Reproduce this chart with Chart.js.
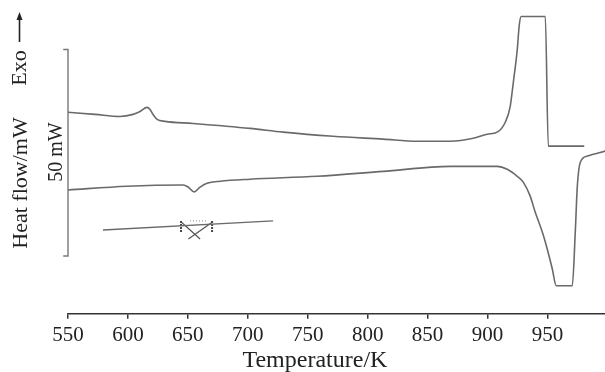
<!DOCTYPE html>
<html>
<head>
<meta charset="utf-8">
<script src="https://cdn.jsdelivr.net/npm/chart.js@4"></script>
<style>
  html, body { margin: 0; padding: 0; background: #fff; }
  #wrap { width: 605px; height: 372px; position: relative; }
</style>
</head>
<body>
<div id="wrap"><canvas id="dsc"></canvas></div>
<script>
// Heating curve (upper, exothermic up)
const heatTemp = [550, 572.5, 593.4, 604.3, 610.1, 615.9, 618.4, 620.9, 624.3, 631, 654.3, 701.9, 729.5, 771.2, 812.9, 841.3, 868.9, 888.1, 899.7, 908.1, 914.8, 918.9, 921.5, 924.8, 926.5, 928.1, 948.2, 950.7, 980.7];
const heatFlow = [48.8, 48.3, 47.8, 48.3, 49.0, 50.0, 49.5, 48.3, 47.1, 46.6, 46.1, 44.9, 44.0, 43.0, 42.3, 41.8, 41.8, 42.5, 43.5, 44.0, 46.4, 50.2, 56.0, 64.0, 70.0, 72.0, 72.0, 40.6, 40.6];

// Cooling curve (lower)
const coolTemp = [550, 599.2, 646, 650.2, 655.2, 660.2, 666, 676.9, 701.9, 757.8, 812.9, 868.9, 896.4, 908.1, 916.4, 924.8, 929.8, 935.6, 939.8, 945.7, 949.8, 954, 957.3, 970.7, 973.2, 974.9, 977.4, 983.2, 998.2];
const coolFlow = [30.0, 30.9, 31.2, 30.7, 29.5, 30.7, 31.6, 32.1, 32.6, 33.3, 34.5, 35.7, 35.7, 35.7, 35.0, 33.3, 31.9, 28.5, 24.6, 19.8, 15.7, 10.9, 6.8, 6.8, 19.8, 30.9, 36.7, 38.2, 39.4];

// Short reference trace with its marker
const refTemp = [579.2, 721.1];
const refFlow = [20.3, 22.5];
const markDiagA = [[644.9, 22.1], [660.2, 18.1]];
const markDiagB = [[670.0, 22.1], [650.4, 18.1]];
const markLeft = [[644.3, 22.5], [644.3, 19.6]];
const markRight = [[670.2, 22.5], [670.2, 19.6]];
const markTop = [[651.8, 22.5], [665.2, 22.5]];

// 50 mW scale bar
const barTemp = [546, 550, 550, 546];
const barFlow = [64, 64, 14, 14];

const tickValues = [550, 600, 650, 700, 750, 800, 850, 900, 950];

const toPts = (xs, ys) => xs.map((x, i) => ({ x, y: ys[i] }));
const pairs = arr => arr.map(([x, y]) => ({ x, y }));

const serif = '"Liberation Serif", "DejaVu Serif", serif';
const curveColor = '#6a6a6a';

function line(data, extra) {
  return Object.assign({
    data,
    borderColor: curveColor,
    borderWidth: 1.6,
    pointRadius: 0,
    tension: 0,
    fill: false
  }, extra || {});
}

// Axis title and side labels
const labelsPlugin = {
  id: 'labels',
  afterDraw(chart) {
    const { ctx, scales } = chart;
    ctx.save();
    ctx.fillStyle = '#222';
    ctx.textBaseline = 'alphabetic';
    ctx.textAlign = 'center';

    ctx.font = '24px ' + serif;
    ctx.fillText('Temperature/K', scales.x.getPixelForValue(756), 367);

    const rot = (text, x, y, size) => {
      ctx.save();
      ctx.translate(x, y);
      ctx.rotate(-Math.PI / 2);
      ctx.font = size + 'px ' + serif;
      ctx.fillText(text, 0, 0);
      ctx.restore();
    };
    rot('Heat flow/mW', 27, 183, 22);
    rot('Exo', 26, 68, 22);
    rot('50 mW', 62, 152, 20);

    // Exo arrow
    ctx.strokeStyle = '#222';
    ctx.lineWidth = 1.6;
    ctx.beginPath();
    ctx.moveTo(19.5, 42);
    ctx.lineTo(19.5, 18);
    ctx.stroke();
    ctx.beginPath();
    ctx.moveTo(19.5, 12);
    ctx.lineTo(16.5, 20);
    ctx.lineTo(22.5, 20);
    ctx.closePath();
    ctx.fill();
    ctx.restore();
  }
};

new Chart(document.getElementById('dsc'), {
  type: 'line',
  data: {
    datasets: [
      line(toPts(heatTemp, heatFlow), { cubicInterpolationMode: 'monotone' }),
      line(toPts(coolTemp, coolFlow), { cubicInterpolationMode: 'monotone' }),
      line(toPts(refTemp, refFlow), { borderWidth: 1.4 }),
      line(pairs(markDiagA), { borderWidth: 1.2, borderColor: '#555' }),
      line(pairs(markDiagB), { borderWidth: 1.2, borderColor: '#555' }),
      line(pairs(markLeft), { borderWidth: 2, borderColor: '#444', borderDash: [2, 1] }),
      line(pairs(markRight), { borderWidth: 2, borderColor: '#444', borderDash: [2, 1] }),
      line(pairs(markTop), { borderWidth: 1, borderColor: '#888', borderDash: [1, 2] }),
      line(toPts(barTemp, barFlow), { borderColor: '#777', borderWidth: 1.4, clip: false })
    ]
  },
  options: {
    responsive: true,
    maintainAspectRatio: false,
    animation: false,
    layout: { padding: { left: 68, right: 0, top: 0, bottom: 20 } },
    plugins: { legend: { display: false }, tooltip: { enabled: false } },
    scales: {
      x: {
        type: 'linear',
        min: 550,
        max: 998,
        afterBuildTicks: scale => { scale.ticks = tickValues.map(v => ({ value: v })); },
        ticks: {
          color: '#222',
          padding: 4,
          maxRotation: 0,
          font: { family: serif, size: 21 },
          callback: v => String(v)
        },
        grid: { drawOnChartArea: false, drawTicks: true, tickLength: 5, color: '#333', lineWidth: 1.5 },
        border: { color: '#333', width: 1.5 }
      },
      y: { display: false, min: 0, max: 76 }
    }
  },
  plugins: [labelsPlugin]
});
</script>
</body>
</html>
